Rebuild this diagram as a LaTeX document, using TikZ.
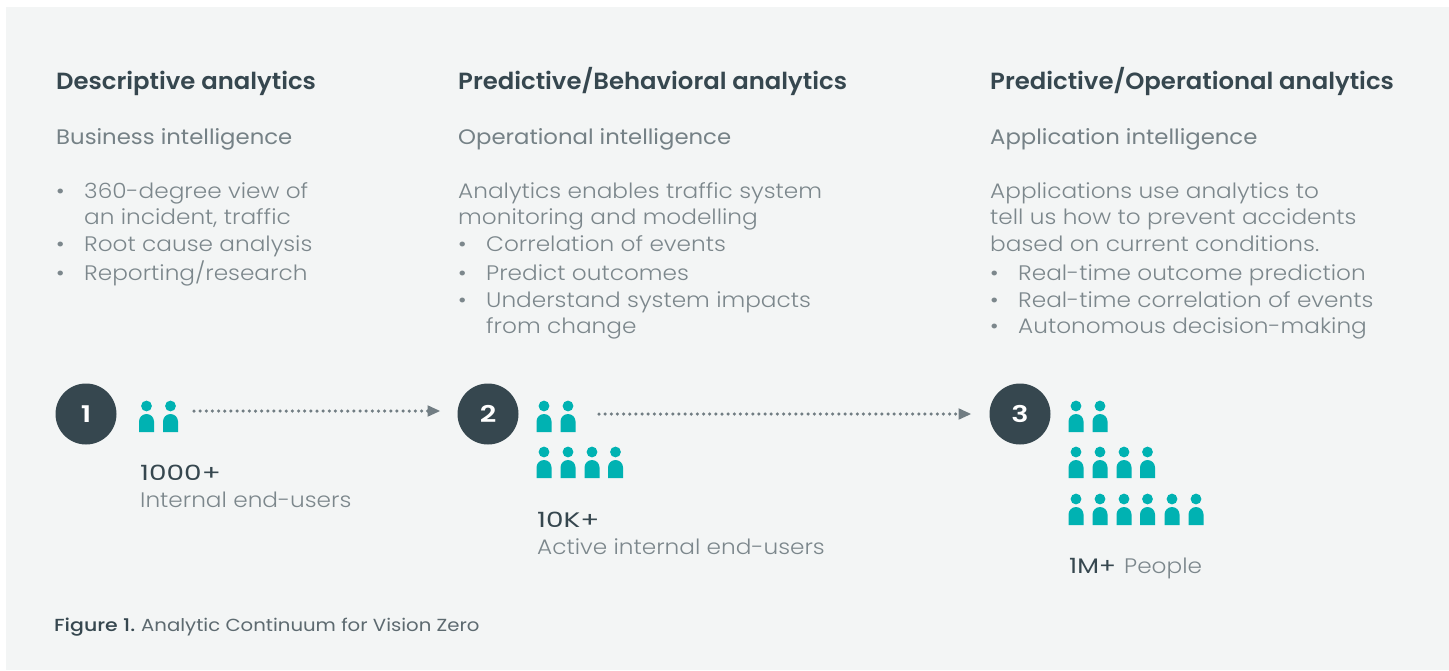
\documentclass[tikz,border=0pt]{standalone}
\usepackage{fontspec}
\setmainfont{Poppins}[UprightFont=Poppins Light,BoldFont=Poppins SemiBold]
\newfontfamily\headfont{Poppins}[UprightFont=Poppins SemiBold,FakeStretch=1.04]
\newfontfamily\subfont{Poppins}[UprightFont=Poppins Regular,FakeStretch=1.085]
\newfontfamily\bodyfont{Poppins}[UprightFont=Poppins Light,FakeStretch=1.105]
\newfontfamily\numfont{Poppins}[UprightFont=Poppins Regular,FakeStretch=1.33]
\newfontfamily\numtightfont{Poppins}[UprightFont=Poppins Regular,FakeStretch=1.2]
\newfontfamily\capfont{Poppins}[UprightFont=Poppins Regular,FakeStretch=1.125]
\newfontfamily\figfont{Poppins}[UprightFont=Poppins Medium,FakeStretch=1.17]
\newfontfamily\digitfont{Poppins}[UprightFont=Poppins SemiBold,FakeStretch=1.25]
\definecolor{panel}{HTML}{F3F5F5}
\definecolor{ink}{HTML}{36474F}
\definecolor{soft}{HTML}{7C878C}
\definecolor{teal}{HTML}{00B2B2}
\tikzset{x=1pt,y=-1pt,
 head/.style={anchor=base west,inner sep=0pt,font=\headfont\fontsize{23.4}{26}\selectfont,text=ink},
 sub/.style={anchor=base west,inner sep=0pt,font=\subfont\fontsize{21}{24}\selectfont,text=soft!90!ink},
 body/.style={anchor=base west,inner sep=0pt,font=\bodyfont\fontsize{21}{24}\selectfont,text=soft},
 num/.style={anchor=base west,inner sep=0pt,font=\numfont\fontsize{21}{24}\selectfont,text=ink},
 numtight/.style={anchor=base west,inner sep=0pt,font=\numtightfont\fontsize{21}{24}\selectfont,text=ink},
 figlabel/.style={anchor=base west,inner sep=0pt,font=\figfont\fontsize{17.5}{20}\selectfont,text=ink},
 captext/.style={anchor=base west,inner sep=0pt,font=\capfont\fontsize{17.5}{20}\selectfont,text=soft!55!ink},
 badge/.style={circle,fill=ink,minimum size=61pt,inner sep=0pt,text=white,font=\digitfont\fontsize{23}{26}\selectfont},
 flow/.style={soft!85!ink,line width=3.5pt,dash pattern=on 0pt off 6.15pt,line cap=round,shorten >=10pt},
 tip/.style={fill=soft!85!ink,draw=none},
 person/.pic={
  \fill[teal] (0,-26) circle (5.4);
  \fill[teal] (-7.5,0) -- (-7.5,-10.5) arc[start angle=180,end angle=360,radius=7.5] -- (7.5,0) -- cycle;
 }}
\newcommand{\peoplerow}[2]{\foreach \px in {#1}{\pic at (\px,#2) {person};}}
\begin{document}
\begin{tikzpicture}
\useasboundingbox (0,0) rectangle (1449,670);
\fill[panel] (6,7) rectangle (1449,670);
% column 1
\node[head] (h1) at (56,89) {Descriptive analytics};
\node[sub] (s1) at (56,144) {Business intelligence};
\node[body] at (56,198) {•};
\node[body] at (84,198) {360-degree view of};
\node[body] at (84,224) {an incident, traffic};
\node[body] at (56,251) {•};
\node[body] at (84,251) {Root cause analysis};
\node[body] at (56,280) {•};
\node[body] at (84,280) {Reporting/research};
% column 2
\node[head] (h2) at (458,89) {Predictive/Behavioral analytics};
\node[sub] (s2) at (458,144) {Operational intelligence};
\node[body] at (458,198) {Analytics enables traffic system};
\node[body] at (458,224) {monitoring and modelling};
\node[body] at (458,251) {•};
\node[body] at (486,251) {Correlation of events};
\node[body] at (458,280) {•};
\node[body] at (486,280) {Predict outcomes};
\node[body] at (458,307) {•};
\node[body] at (486,307) {Understand system impacts};
\node[body] at (486,333) {from change};
% column 3
\node[head] (h3) at (990,89) {Predictive/Operational analytics};
\node[sub] (s3) at (990,144) {Application intelligence};
\node[body] at (990,198) {Applications use analytics to};
\node[body] at (990,224) {tell us how to prevent accidents};
\node[body] at (990,251) {based on current conditions.};
\node[body] at (990,280) {•};
\node[body] at (1018,280) {Real-time outcome prediction};
\node[body] at (990,307) {•};
\node[body] at (1018,307) {Real-time correlation of events};
\node[body] at (990,333) {•};
\node[body] at (1018,333) {Autonomous decision-making};
% badges
\node[badge] (c1) at (86,414) {1};
\node[badge] (c2) at (488,414) {2};
\node[badge] (c3) at (1020,414) {3};
% arrows
\coordinate (a1s) at (194,411);
\coordinate (a1e) at (440,411);
\coordinate (a2s) at (599,414);
\coordinate (a2e) at (971,414);
\draw[flow] (a1s) -- (a1e);
\fill[tip] (a1e) -- ++(-12.5,-5.8) -- ++(0,11.6) -- cycle;
\draw[flow] (a2s) -- (a2e);
\fill[tip] (a2e) -- ++(-12.5,-5.8) -- ++(0,11.6) -- cycle;
% people
\peoplerow{146.5,170.5}{432}
\peoplerow{544,568}{432}
\peoplerow{544,568,592,615.5}{478}
\peoplerow{1076,1100}{432}
\peoplerow{1076,1100,1124,1147.5}{478}
\peoplerow{1076,1100,1124,1147.5,1172,1196}{525}
% counts
\node[num] at (140,480) {1000+};
\node[body] at (140,507) {Internal end-users};
\node[num] at (537,527) {10K+};
\node[body] at (537,554) {Active internal end-users};
\node[numtight] (m3) at (1069,573) {1M+};
\node[body] at (1124,573) {People};
% caption
\node[figlabel] at (54,631) {Figure 1.};
\node[captext] at (141,631) {Analytic Continuum for Vision Zero};
\end{tikzpicture}
\end{document}
